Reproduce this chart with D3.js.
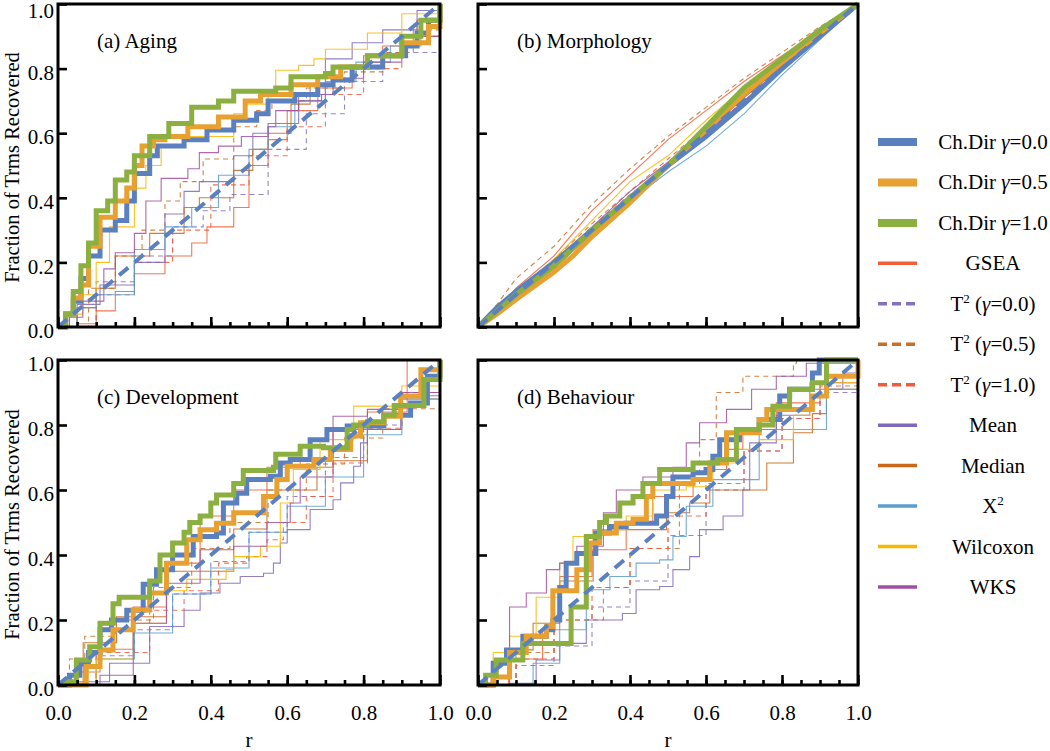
<!DOCTYPE html>
<html><head><meta charset="utf-8">
<script src="https://cdn.jsdelivr.net/npm/d3@7"></script>
<style>body{margin:0;background:#fff}svg{display:block}</style>
</head><body>
<script>
// ---------- data ----------
const panelTitles = ["(a) Aging","(b) Morphology","(c) Development","(d) Behaviour"];
const tickLabels = ["0.0","0.2","0.4","0.6","0.8","1.0"];
const tickValues = [0,0.2,0.4,0.6,0.8,1.0];
const seriesNames = ["Ch.Dir γ=0.0","Ch.Dir γ=0.5","Ch.Dir γ=1.0","GSEA","T2 (γ=0.0)","T2 (γ=0.5)","T2 (γ=1.0)","Mean","Median","X2","Wilcoxon","WKS"];
const seriesColors = ["#5b80c0","#e8a030","#8cb040","#f06038","#8470c0","#c87028","#f05a38","#8068b8","#c86818","#5a9ed0","#f8b800","#a0509e"];
const diagonal = [[0,0],[1,1]];

// each array: [panel a, panel b, panel c, panel d] point lists [r, fraction]
const chDir00 = [
 [[0,0],[0.02,0.04],[0.04,0.08],[0.06,0.15],[0.08,0.22],[0.11,0.30],[0.15,0.33],[0.18,0.39],[0.20,0.475],[0.24,0.53],[0.26,0.56],[0.33,0.58],[0.39,0.61],[0.46,0.64],[0.52,0.66],[0.55,0.70],[0.62,0.72],[0.68,0.75],[0.72,0.765],[0.77,0.805],[0.85,0.84],[0.91,0.87],[0.94,0.91],[0.97,0.95],[1,1]],
 [[0,0],[0.05,0.06],[0.1,0.11],[0.2,0.2],[0.3,0.3],[0.4,0.4],[0.5,0.5],[0.6,0.59],[0.7,0.69],[0.8,0.8],[0.9,0.9],[1,1]],
 [[0,0],[0.03,0.03],[0.057,0.067],[0.08,0.1],[0.11,0.17],[0.14,0.2],[0.18,0.23],[0.223,0.31],[0.258,0.355],[0.3,0.4],[0.337,0.4],[0.354,0.457],[0.415,0.468],[0.433,0.56],[0.468,0.59],[0.494,0.632],[0.556,0.642],[0.582,0.683],[0.608,0.694],[0.66,0.755],[0.704,0.786],[0.757,0.797],[0.835,0.797],[0.853,0.83],[0.923,0.868],[0.967,0.95],[1,1]],
 [[0,0],[0.04,0.067],[0.075,0.108],[0.118,0.15],[0.18,0.17],[0.197,0.2],[0.215,0.30],[0.232,0.375],[0.26,0.405],[0.31,0.468],[0.346,0.488],[0.39,0.498],[0.47,0.52],[0.496,0.58],[0.513,0.64],[0.566,0.653],[0.60,0.663],[0.618,0.704],[0.636,0.755],[0.688,0.786],[0.74,0.817],[0.794,0.889],[0.82,0.91],[0.88,0.96],[0.898,1.0],[1,1]]
];
const chDir05 = [
 [[0,0],[0.02,0.04],[0.04,0.09],[0.06,0.13],[0.08,0.25],[0.11,0.34],[0.15,0.39],[0.18,0.43],[0.2,0.5],[0.22,0.56],[0.25,0.58],[0.28,0.59],[0.34,0.62],[0.42,0.65],[0.49,0.70],[0.53,0.72],[0.61,0.75],[0.68,0.775],[0.74,0.805],[0.81,0.84],[0.9,0.88],[0.97,0.93],[1,1]],
 [[0,0],[0.05,0.04],[0.1,0.085],[0.2,0.17],[0.25,0.22],[0.3,0.28],[0.4,0.385],[0.5,0.5],[0.6,0.61],[0.7,0.72],[0.8,0.82],[0.9,0.91],[1,1]],
 [[0,0],[0.057,0],[0.074,0.057],[0.11,0.108],[0.144,0.17],[0.197,0.231],[0.24,0.283],[0.284,0.375],[0.337,0.447],[0.372,0.478],[0.415,0.498],[0.46,0.53],[0.494,0.53],[0.538,0.58],[0.573,0.632],[0.6,0.673],[0.67,0.694],[0.713,0.725],[0.766,0.766],[0.792,0.807],[0.853,0.827],[0.897,0.889],[0.95,0.97],[1,1]],
 [[0,0],[0.04,0.025],[0.083,0.10],[0.127,0.15],[0.18,0.18],[0.197,0.29],[0.26,0.355],[0.294,0.437],[0.32,0.468],[0.364,0.498],[0.408,0.51],[0.443,0.58],[0.46,0.62],[0.566,0.632],[0.61,0.683],[0.654,0.776],[0.74,0.817],[0.76,0.848],[0.83,0.848],[0.88,0.889],[0.917,0.95],[0.96,0.95],[1,1]]
];
const chDir10 = [
 [[0,0],[0.02,0.04],[0.04,0.11],[0.06,0.19],[0.08,0.26],[0.10,0.36],[0.13,0.39],[0.15,0.455],[0.18,0.48],[0.20,0.53],[0.24,0.59],[0.29,0.63],[0.35,0.68],[0.42,0.70],[0.46,0.73],[0.57,0.74],[0.61,0.775],[0.70,0.785],[0.72,0.805],[0.81,0.84],[0.9,0.9],[0.95,0.95],[1,1]],
 [[0,0],[0.05,0.05],[0.1,0.1],[0.2,0.19],[0.3,0.3],[0.4,0.40],[0.5,0.5],[0.6,0.62],[0.7,0.74],[0.8,0.83],[0.9,0.92],[1,1]],
 [[0,0],[0.02,0.01],[0.048,0.077],[0.083,0.118],[0.11,0.19],[0.144,0.25],[0.16,0.27],[0.24,0.32],[0.267,0.40],[0.30,0.437],[0.33,0.47],[0.345,0.50],[0.372,0.52],[0.40,0.56],[0.415,0.585],[0.46,0.62],[0.485,0.66],[0.564,0.67],[0.57,0.71],[0.634,0.735],[0.695,0.73],[0.757,0.786],[0.774,0.80],[0.81,0.81],[0.853,0.83],[0.88,0.86],[0.923,0.86],[0.958,0.94],[1,1]],
 [[0,0],[0.02,0.03],[0.048,0.077],[0.118,0.128],[0.24,0.128],[0.245,0.24],[0.285,0.457],[0.32,0.50],[0.338,0.52],[0.373,0.56],[0.408,0.58],[0.434,0.62],[0.478,0.663],[0.566,0.683],[0.63,0.694],[0.68,0.786],[0.74,0.80],[0.776,0.858],[0.82,0.91],[0.88,0.93],[0.917,1.0],[1,1]]
];
const gsea = [
 [[0,0],[0.05,0.01],[0.1,0.05],[0.15,0.11],[0.2,0.165],[0.28,0.22],[0.35,0.26],[0.39,0.31],[0.46,0.37],[0.5,0.5],[0.55,0.58],[0.6,0.67],[0.68,0.74],[0.77,0.80],[0.85,0.87],[0.94,0.95],[1,1]],
 [[0,0],[0.05,0.05],[0.1,0.12],[0.2,0.22],[0.3,0.36],[0.4,0.47],[0.5,0.58],[0.6,0.67],[0.7,0.76],[0.8,0.84],[0.9,0.92],[1,1]],
 [[0,0],[0.05,0.04],[0.11,0.11],[0.197,0.24],[0.284,0.375],[0.372,0.52],[0.46,0.6],[0.547,0.67],[0.634,0.70],[0.72,0.786],[0.81,0.84],[0.914,1.0],[1,1]],
 [[0,0],[0.08,0.08],[0.17,0.17],[0.215,0.334],[0.3,0.416],[0.39,0.5],[0.46,0.58],[0.566,0.653],[0.618,0.663],[0.654,0.725],[0.697,0.786],[0.785,0.868],[0.9,0.93],[1,1]]
];
const t2g00 = [
 [[0,0],[0.1,0.14],[0.2,0.22],[0.3,0.31],[0.38,0.36],[0.45,0.41],[0.55,0.55],[0.65,0.66],[0.75,0.76],[0.85,0.85],[1,1]],
 [[0,0],[0.1,0.1],[0.2,0.2],[0.3,0.31],[0.4,0.41],[0.5,0.5],[0.6,0.6],[0.7,0.7],[0.8,0.81],[0.9,0.9],[1,1]],
 [[0,0],[0.1,0.09],[0.2,0.17],[0.3,0.28],[0.4,0.38],[0.5,0.47],[0.6,0.58],[0.7,0.7],[0.8,0.8],[0.9,0.9],[1,1]],
 [[0,0],[0.1,0.06],[0.2,0.12],[0.3,0.24],[0.4,0.32],[0.5,0.46],[0.6,0.6],[0.7,0.72],[0.8,0.82],[0.9,0.9],[1,1]]
];
const t2g05 = [
 [[0,0],[0.08,0.12],[0.15,0.22],[0.22,0.3],[0.28,0.39],[0.32,0.45],[0.38,0.52],[0.46,0.62],[0.52,0.67],[0.56,0.70],[0.65,0.74],[0.75,0.79],[0.85,0.85],[0.93,0.92],[1,1]],
 [[0,0],[0.05,0.07],[0.1,0.15],[0.2,0.25],[0.3,0.38],[0.4,0.49],[0.5,0.59],[0.6,0.68],[0.7,0.77],[0.8,0.85],[0.9,0.93],[1,1]],
 [[0,0],[0.03,0.08],[0.07,0.15],[0.15,0.2],[0.25,0.3],[0.35,0.42],[0.45,0.5],[0.55,0.6],[0.65,0.68],[0.75,0.76],[0.85,0.85],[1,1]],
 [[0,0],[0.1,0.1],[0.2,0.2],[0.33,0.3],[0.4,0.42],[0.53,0.62],[0.583,0.755],[0.627,0.9],[0.697,0.95],[0.83,0.99],[0.838,1.0],[1,1]]
];
const t2g10 = [
 [[0,0],[0.1,0.1],[0.2,0.2],[0.3,0.3],[0.4,0.44],[0.5,0.53],[0.6,0.62],[0.7,0.72],[0.8,0.8],[0.9,0.9],[1,1]],
 [[0,0],[0.1,0.11],[0.2,0.21],[0.3,0.32],[0.4,0.42],[0.5,0.52],[0.6,0.62],[0.7,0.72],[0.8,0.82],[0.9,0.91],[1,1]],
 [[0,0],[0.1,0.1],[0.24,0.23],[0.33,0.29],[0.42,0.375],[0.494,0.395],[0.547,0.447],[0.59,0.5],[0.65,0.58],[0.72,0.683],[0.81,0.79],[0.9,0.9],[1,1]],
 [[0,0],[0.1,0.08],[0.2,0.2],[0.3,0.3],[0.4,0.42],[0.5,0.52],[0.6,0.62],[0.7,0.72],[0.8,0.82],[0.9,0.92],[1,1]]
];
const meanS = [
 [[0,0],[0.05,0.07],[0.11,0.13],[0.2,0.2],[0.28,0.35],[0.33,0.42],[0.37,0.45],[0.46,0.53],[0.51,0.60],[0.55,0.63],[0.63,0.72],[0.7,0.83],[0.77,0.88],[0.85,0.92],[0.94,0.98],[1,1]],
 [[0,0],[0.1,0.1],[0.2,0.2],[0.3,0.3],[0.4,0.4],[0.5,0.5],[0.6,0.6],[0.7,0.71],[0.8,0.81],[0.9,0.9],[1,1]],
 [[0,0],[0.05,0.01],[0.135,0.067],[0.24,0.18],[0.33,0.23],[0.372,0.283],[0.424,0.313],[0.477,0.334],[0.538,0.344],[0.564,0.375],[0.582,0.437],[0.6,0.478],[0.66,0.54],[0.72,0.57],[0.74,0.622],[0.774,0.673],[0.792,0.745],[0.81,0.786],[0.897,0.89],[1,1]],
 [[0,0],[0.083,0.005],[0.153,0.077],[0.215,0.128],[0.285,0.2],[0.38,0.22],[0.416,0.293],[0.478,0.303],[0.513,0.355],[0.557,0.395],[0.583,0.478],[0.645,0.52],[0.697,0.60],[0.715,0.745],[0.785,0.83],[0.873,0.91],[0.96,0.96],[1,1]]
];
const medianS = [
 [[0,0],[0.05,0.06],[0.1,0.12],[0.15,0.22],[0.24,0.29],[0.33,0.37],[0.37,0.40],[0.46,0.485],[0.51,0.55],[0.55,0.60],[0.61,0.69],[0.66,0.75],[0.72,0.80],[0.8,0.84],[0.9,0.9],[1,1]],
 [[0,0],[0.1,0.09],[0.2,0.18],[0.3,0.29],[0.4,0.4],[0.5,0.51],[0.6,0.61],[0.7,0.71],[0.8,0.81],[0.9,0.9],[1,1]],
 [[0,0],[0.066,0.13],[0.153,0.21],[0.284,0.35],[0.46,0.48],[0.547,0.6],[0.678,0.67],[0.72,0.69],[0.81,0.786],[0.9,0.88],[1,1]],
 [[0,0],[0.083,0.108],[0.145,0.19],[0.215,0.32],[0.303,0.478],[0.395,0.478],[0.496,0.53],[0.557,0.56],[0.61,0.60],[0.715,0.60],[0.76,0.683],[0.83,0.776],[0.88,0.835],[0.917,0.91],[1,1]]
];
const x2S = [
 [[0,0],[0.05,0.06],[0.1,0.1],[0.2,0.24],[0.28,0.31],[0.35,0.37],[0.42,0.47],[0.5,0.55],[0.55,0.62],[0.62,0.7],[0.7,0.76],[0.78,0.82],[0.87,0.87],[0.95,0.95],[1,1]],
 [[0,0],[0.1,0.1],[0.2,0.19],[0.3,0.29],[0.4,0.39],[0.5,0.48],[0.6,0.56],[0.7,0.66],[0.8,0.78],[0.9,0.89],[1,1]],
 [[0,0],[0.1,0.08],[0.2,0.16],[0.3,0.28],[0.4,0.36],[0.5,0.47],[0.6,0.55],[0.7,0.64],[0.8,0.77],[0.9,0.88],[1,1]],
 [[0,0],[0.145,0.067],[0.215,0.17],[0.285,0.293],[0.347,0.334],[0.416,0.375],[0.478,0.385],[0.513,0.457],[0.548,0.55],[0.618,0.632],[0.74,0.786],[0.917,0.91],[1,1]]
];
const wilcoxonS = [
 [[0,0],[0.03,0.04],[0.065,0.10],[0.1,0.2],[0.135,0.31],[0.2,0.43],[0.23,0.5],[0.27,0.56],[0.33,0.59],[0.46,0.66],[0.49,0.69],[0.55,0.72],[0.57,0.795],[0.63,0.81],[0.67,0.83],[0.7,0.86],[0.81,0.91],[0.9,0.97],[1,1]],
 [[0,0],[0.1,0.1],[0.2,0.21],[0.3,0.33],[0.4,0.45],[0.5,0.53],[0.6,0.64],[0.7,0.74],[0.8,0.83],[0.9,0.92],[1,1]],
 [[0,0],[0.1,0.08],[0.197,0.19],[0.284,0.29],[0.337,0.325],[0.44,0.355],[0.46,0.395],[0.53,0.427],[0.582,0.56],[0.616,0.663],[0.686,0.755],[0.774,0.858],[0.9,0.92],[1,1]],
 [[0,0],[0.04,0.1],[0.083,0.15],[0.153,0.27],[0.215,0.375],[0.25,0.457],[0.303,0.478],[0.39,0.52],[0.46,0.60],[0.548,0.61],[0.618,0.683],[0.68,0.725],[0.74,0.755],[0.83,0.83],[0.873,0.93],[1,1]]
];
const wksS = [
 [[0,0],[0.03,0.03],[0.065,0.08],[0.12,0.18],[0.15,0.23],[0.2,0.29],[0.23,0.39],[0.27,0.46],[0.34,0.49],[0.37,0.54],[0.42,0.56],[0.48,0.59],[0.55,0.62],[0.57,0.67],[0.63,0.70],[0.69,0.72],[0.72,0.77],[0.8,0.82],[0.9,0.9],[1,1]],
 [[0,0],[0.1,0.1],[0.2,0.2],[0.3,0.31],[0.4,0.42],[0.5,0.51],[0.6,0.6],[0.7,0.7],[0.8,0.8],[0.9,0.9],[1,1]],
 [[0,0],[0.11,0.03],[0.197,0.19],[0.284,0.313],[0.372,0.416],[0.46,0.427],[0.547,0.5],[0.608,0.56],[0.634,0.64],[0.72,0.827],[0.81,0.848],[0.9,0.9],[1,1]],
 [[0,0],[0.04,0.067],[0.083,0.24],[0.127,0.283],[0.18,0.355],[0.215,0.375],[0.26,0.427],[0.33,0.53],[0.364,0.60],[0.434,0.64],[0.513,0.67],[0.548,0.745],[0.583,0.807],[0.654,0.848],[0.72,0.91],[0.785,0.95],[0.864,0.99],[1,1]]
];

// ---------- drawing ----------
const W = 1050, H = 751;
const FONT = "'Liberation Serif','Times New Roman',serif";
const FS = "21px";
const svg = d3.select("body").append("svg").attr("width", W).attr("height", H)
  .style("font-family", FONT);

const panels = [
  {x0:58, x1:440, y0:4, y1:327, xl:false, yl:true},
  {x0:478, x1:858, y0:4, y1:327, xl:false, yl:false},
  {x0:58, x1:440, y0:360, y1:685, xl:true, yl:true},
  {x0:478, x1:858, y0:360, y1:685, xl:true, yl:false}
];

const thin = [
  {d:gsea, c:3, dash:null},
  {d:t2g00, c:4, dash:"5,4"},
  {d:t2g05, c:5, dash:"5,4"},
  {d:t2g10, c:6, dash:"5,4"},
  {d:meanS, c:7, dash:null},
  {d:medianS, c:8, dash:null},
  {d:x2S, c:9, dash:null},
  {d:wilcoxonS, c:10, dash:null},
  {d:wksS, c:11, dash:null}
];
const thick = [{d:chDir00,c:0},{d:chDir05,c:1},{d:chDir10,c:2}];

function richText(t, name) {
  const m = name.match(/^(T|X)2(.*)$/);
  if (m) {
    t.append("tspan").text(m[1]);
    t.append("tspan").attr("dy",-8).style("font-size","13px").text("2");
    const parts = m[2].split("γ");
    parts.forEach((part, k) => {
      const ts = t.append("tspan").text(part);
      if (k === 0) ts.attr("dy", 8);
      if (k < parts.length - 1) t.append("tspan").style("font-style","italic").text("γ");
    });
    return;
  }
  const parts = name.split("γ");
  parts.forEach((part, k) => {
    t.append("tspan").text(part);
    if (k < parts.length - 1) t.append("tspan").style("font-style","italic").text("γ");
  });
}

panels.forEach((p, i) => {
  const x = d3.scaleLinear().domain([0,1]).range([p.x0, p.x1]);
  const y = d3.scaleLinear().domain([0,1]).range([p.y1, p.y0]);
  const curve = i === 1 ? d3.curveLinear : d3.curveStepAfter;
  const line = d3.line().x(d => x(d[0])).y(d => y(d[1])).curve(curve);
  const g = svg.append("g");

  thin.forEach(s => {
    g.append("path").attr("d", line(s.d[i])).attr("fill","none")
      .attr("stroke", seriesColors[s.c]).attr("stroke-width", 1.1)
      .attr("stroke-opacity", 0.85)
      .attr("stroke-dasharray", s.dash);
  });
  thick.forEach(s => {
    g.append("path").attr("d", line(s.d[i])).attr("fill","none")
      .attr("stroke", seriesColors[s.c]).attr("stroke-width", 5)
      .attr("stroke-linejoin","miter");
  });
  g.append("path").attr("d", d3.line().x(d=>x(d[0])).y(d=>y(d[1]))(diagonal))
    .attr("fill","none").attr("stroke", seriesColors[0]).attr("stroke-width", 4)
    .attr("stroke-dasharray","12,8");

  // frame
  g.append("rect").attr("x", p.x0).attr("y", p.y0).attr("width", p.x1-p.x0).attr("height", p.y1-p.y0)
    .attr("fill","none").attr("stroke","#000").attr("stroke-width",3);

  // y axis
  const ya = d3.axisLeft(y).tickValues(tickValues).tickSizeInner(-9).tickSizeOuter(0).tickPadding(4)
    .tickFormat((d,k) => p.yl ? tickLabels[k] : "");
  const yg = g.append("g").attr("transform", `translate(${p.x0},0)`).call(ya);
  // x minor ticks
  const xm = d3.axisBottom(x).tickValues(d3.range(1,20).map(k=>k*0.05)).tickSizeInner(-5).tickSizeOuter(0).tickFormat("");
  const xmg = g.append("g").attr("transform", `translate(0,${p.y1})`).call(xm);
  // x major ticks
  const xa = d3.axisBottom(x).tickValues(tickValues).tickSizeInner(-10).tickSizeOuter(0).tickPadding(24)
    .tickFormat((d,k) => p.xl ? tickLabels[k] : "");
  const xg = g.append("g").attr("transform", `translate(0,${p.y1})`).call(xa);
  [yg, xmg, xg].forEach(a => {
    a.select(".domain").remove();
    a.selectAll(".tick line").attr("stroke","#000").attr("stroke-width",2.6);
    a.selectAll("text").attr("fill","#000").style("font-family", FONT).style("font-size", FS);
  });
  yg.selectAll("text").attr("y", d => (d === 1 && i < 2) ? 7 : 4);
  xg.selectAll("text").attr("dy", null).attr("y", 720 - p.y1);

  // panel title
  g.append("text").attr("x", x(0) + 39).attr("y", y(1) + 44)
    .style("font-size", FS).attr("fill","#000").text(panelTitles[i]);

  if (p.yl) {
    g.append("text").attr("transform", `translate(19,${(p.y0+p.y1)/2 + 2}) rotate(-90)`)
      .attr("text-anchor","middle").style("font-size","20.5px").text("Fraction of Trms Recovered");
  }
  if (p.xl) {
    g.append("text").attr("x", (p.x0+p.x1)/2).attr("y", 747).attr("text-anchor","middle")
      .style("font-size", FS).text("r");
  }
});

// ---------- legend ----------
const lg = svg.append("g");
const legendY0 = 142, legendStep = 40.45;
const legendDash = [null,null,null,null,"9,5","9,5","9,5",null,null,null,null,null];
seriesNames.forEach((name, k) => {
  const yy = legendY0 + k * legendStep;
  lg.append("line").attr("x1",878).attr("x2",917).attr("y1",yy).attr("y2",yy)
    .attr("stroke", seriesColors[k]).attr("stroke-width", k < 3 ? 8 : 3.5)
    .attr("stroke-dasharray", legendDash[k]);
  const t = lg.append("text").attr("x", 993).attr("y", yy + 7).attr("text-anchor","middle")
    .style("font-size", FS).attr("fill","#000");
  richText(t, name);
});
</script>
</body></html>
